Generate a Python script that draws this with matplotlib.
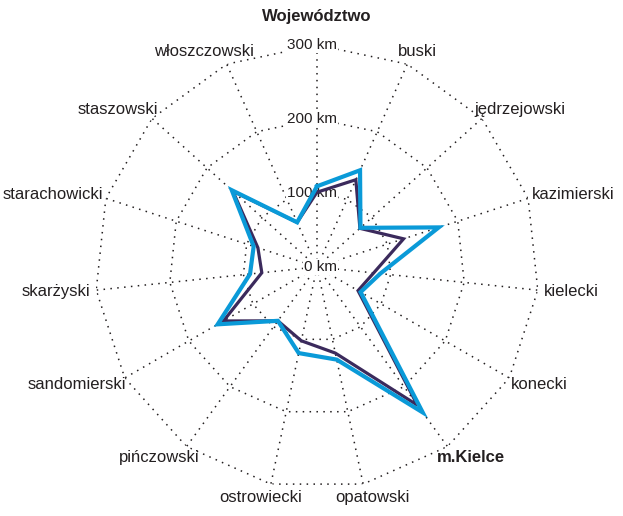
import numpy as np
import matplotlib
matplotlib.use("Agg")
import matplotlib.pyplot as plt
from matplotlib.transforms import offset_copy

# Dane do wykresu (km)
kategorie = ["Województwo", "buski", "jędrzejowski", "kazimierski", "kielecki",
             "konecki", "m.Kielce", "opatowski", "ostrowiecki", "pińczowski",
             "sandomierski", "skarżyski", "starachowicki", "staszowski",
             "włoszczowski"]
seria_niebieska = [109, 143, 79, 173, 86, 68, 243, 128, 119, 90, 155, 91, 90, 155, 66]
seria_fioletowa = [101, 129, 78, 123, 77, 64, 231, 119, 102, 90, 146, 75, 84, 153, 66]
pogrubione = ["Województwo", "m.Kielce"]
skala = [0, 100, 200, 300]
skala_opisy = ["0 km", "100 km", "200 km", "300 km"]

TXT = "#231f20"
NIEBIESKI = "#0a9ad8"
FIOLET = "#3b2a5c"

plt.rcParams['font.family'] = ['Liberation Sans', 'DejaVu Sans']

fig = plt.figure(figsize=(6.23, 5.16), dpi=100)
ax = fig.add_axes([0.1525, 0.0524, 0.7127, 0.8605], projection="polar")
ax.set_theta_zero_location("N")
ax.set_theta_direction(-1)
ax.set_ylim(0, 300)
ax.axis("off")

n = len(kategorie)
theta = np.arange(n) * 2 * np.pi / n
theta_zam = np.append(theta, theta[0])

# siatka - kropkowane wielokaty i promienie
kropki = (0, (1, 3.5))
for r in skala[1:]:
    ax.plot(theta_zam, [r] * (n + 1), color=TXT, lw=1.1, ls=kropki, zorder=1)
for th in theta:
    ax.plot([th, th], [0, 300], color=TXT, lw=1.1, ls=kropki, zorder=1)

# opisy skali
tr = offset_copy(ax.transData, fig, x=20, y=0, units="dots")
for r, opis in zip(skala, skala_opisy):
    ax.text(0, r, opis, transform=tr, ha="right", va="center", color=TXT,
            fontsize=11,
            bbox=dict(facecolor="white", edgecolor="none", pad=0.5), zorder=2)

# serie
ax.plot(theta_zam, seria_fioletowa + seria_fioletowa[:1], color=FIOLET, lw=2.3,
        solid_joinstyle="miter", zorder=3)
ax.plot(theta_zam, seria_niebieska + seria_niebieska[:1], color=NIEBIESKI, lw=3.0,
        solid_joinstyle="miter", zorder=4)

# opisy kategorii
fig.canvas.draw()
rend = fig.canvas.get_renderer()
for i, nazwa in enumerate(kategorie):
    th = theta[i]
    t = ax.text(th, 300, nazwa, ha="center", va="center", color=TXT, fontsize=12,
                fontweight="bold" if nazwa in pogrubione else "normal")
    bb = t.get_window_extent(rend)
    s, c = np.sin(th), np.cos(th)
    pad = 21 if i == 0 else 6
    dx = pad * s + bb.width / 2 * s
    dy = pad * c + bb.height / 2 * c
    t.set_transform(offset_copy(ax.transData, fig, x=dx, y=dy, units="dots"))

fig.savefig("out.png", dpi=100)
